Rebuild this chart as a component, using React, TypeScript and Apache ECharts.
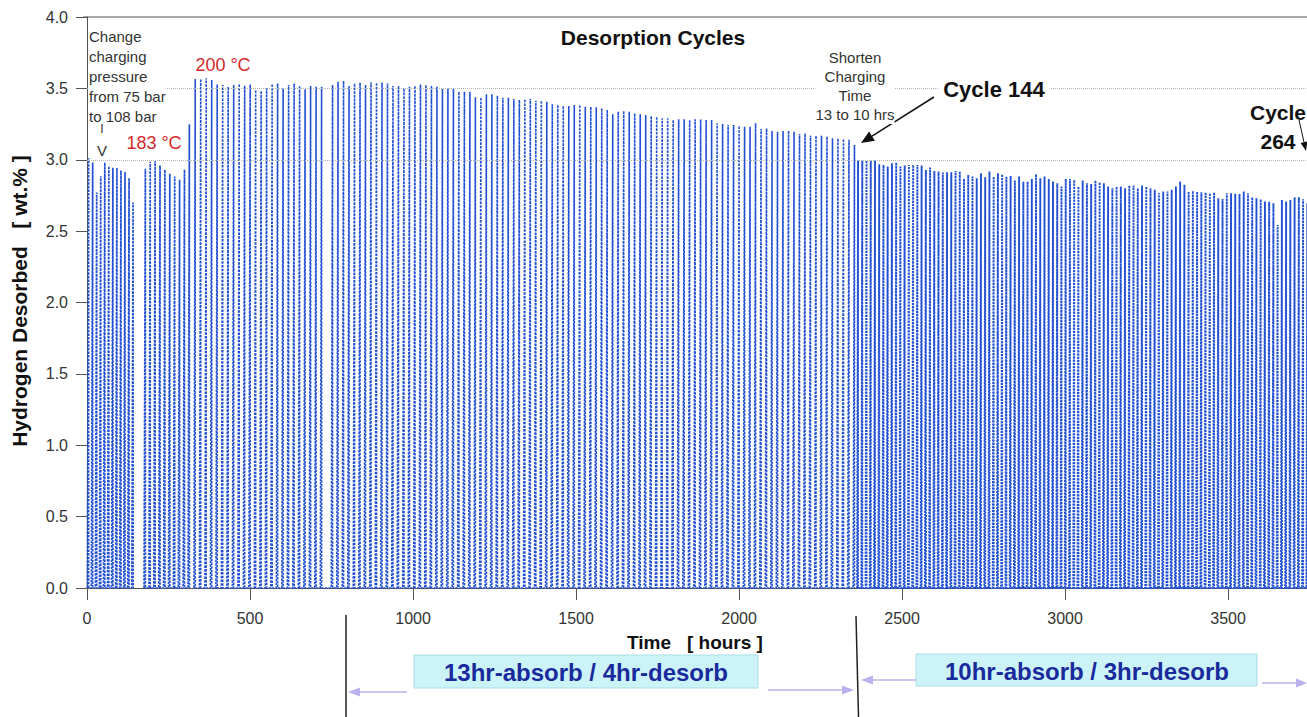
import React, { useEffect, useRef } from "react";
import * as echarts from "echarts";

// ---- Data (peak hydrogen desorbed per cycle, wt.%) ----
// Segment A: 183 °C, 75 bar charging (then change to 108 bar)
const SEG_A_PEAKS = [3.01, 2.98, 2.77, 2.885, 2.98, 2.955, 2.944, 2.944, 2.925, 2.915, 2.87, 2.7];
// Segment B: 183 °C, 108 bar
const SEG_B_PEAKS = [2.937, 2.986, 2.99, 2.96, 2.93, 2.902, 2.883, 2.86, 2.93, 3.248];
// Segment C: 200 °C, 13hr-absorb / 4hr-desorb (null = skipped cycle)
const SEG_C_PEAKS = [
  3.566, 3.566, 3.571, 3.559, 3.528, 3.524, 3.512, 3.524, 3.531, 3.519, 3.528, 3.489,
  3.482, 3.5, 3.531, 3.535, 3.5, 3.524, 3.535, 3.517, 3.494, 3.517, 3.512, 3.512,
  null,
  3.524, 3.547, 3.554, 3.517, 3.535, 3.54, 3.524, 3.543, 3.54, 3.54, 3.535, 3.517,
  3.517, 3.5, 3.512, 3.517, 3.528, 3.524, 3.517, 3.512, 3.496, 3.5, 3.496, 3.477,
  3.477, 3.477, 3.437, 3.437, 3.459, 3.459, 3.449, 3.435, 3.435, 3.426, 3.419, 3.424,
  3.426, 3.414, 3.414, 3.407,
  3.389, 3.384, 3.377, 3.377, 3.384, 3.384, 3.372, 3.372, 3.367, 3.36, 3.349, 3.318,
  3.337, 3.342, 3.337, 3.325, 3.318, 3.314, 3.307, 3.302, 3.29, 3.29, 3.279, 3.283,
  3.283, 3.279, 3.283, 3.283, 3.279, 3.279, 3.255, 3.251, 3.244, 3.244, 3.237, 3.232,
  3.232, 3.255, 3.216, 3.22, 3.202, 3.197, 3.202, 3.204, 3.197, 3.181, 3.185, 3.169,
  3.169, 3.169, 3.162, 3.15, 3.15, 3.146, 3.14, 3.104,
];
// Segment D: from Cycle 144, 10hr-absorb / 3hr-desorb
const SEG_D_PEAKS = [
  2.994, 2.994, 2.994, 2.994, 2.994, 2.968, 2.964, 2.952, 2.975, 2.98, 2.952, 2.959,
  2.964, 2.964, 2.964, 2.959, 2.929, 2.945, 2.922, 2.917, 2.91, 2.912, 2.912, 2.922,
  2.917, 2.866, 2.894, 2.882, 2.87, 2.905, 2.877, 2.917, 2.882, 2.905, 2.898, 2.882,
  2.887, 2.854, 2.882, 2.847, 2.847, 2.866, 2.898, 2.87, 2.882, 2.866, 2.847, 2.835,
  2.812, 2.866, 2.866, 2.859, 2.812,
  2.854, 2.835, 2.83, 2.854, 2.842, 2.835, 2.812, 2.8, 2.812, 2.812, 2.8, 2.819,
  2.819, 2.8, 2.819, 2.812, 2.8, 2.789, 2.765, 2.777, 2.777, 2.789, 2.812, 2.847,
  2.824, 2.777, 2.782, 2.777, 2.772, 2.772, 2.765, 2.77, 2.73, 2.725, 2.765, 2.765,
  2.761, 2.761, 2.777, 2.765, 2.737, 2.73, 2.723, 2.707, 2.707, 2.695, 2.543, 2.718,
  2.707, 2.718, 2.737, 2.737, 2.723, 2.695, 2.672,
];
// Cycle timing per segment (hours)
const SEGMENT_START_HOURS = [1, 175, 328, 2362];
const SEGMENT_PERIOD_HOURS = [12.4, 15, 16.85, 13];
const SEGMENT_DESORB_HOURS = [4, 4, 4, 3];
const GRID_LEVELS = [3.0, 3.5];

const X_MAX = 3742;
const FONT = "'Liberation Sans', Arial, Helvetica, sans-serif";
const BLUE = "#2250d2";
const LAV = "#b9b2ee";
const SEG_LINE_WIDTH = [1.7, 1.7, 1.6, 1.9];
const SEG_DASH = [[2.5, 1.1], [2.5, 1.1], [2.5, 1.2], [2.2, 1.0]];

function cycleLine(peaks: (number | null)[], seg: number) {
  const pts: number[][] = [];
  const start = SEGMENT_START_HOURS[seg];
  const period = SEGMENT_PERIOD_HOURS[seg];
  const dur = SEGMENT_DESORB_HOURS[seg];
  peaks.forEach((p, i) => {
    if (p == null) return;
    const t = start + i * period;
    pts.push([t, 0], [t + dur, p], [t + dur, 0]);
  });
  return pts;
}

function arrow(x1: number, y1: number, x2: number, y2: number, color: string, len: number, half: number, lw: number) {
  const dx = x2 - x1, dy = y2 - y1;
  const L = Math.sqrt(dx * dx + dy * dy);
  const ux = dx / L, uy = dy / L;
  const bx = x2 - ux * len, by = y2 - uy * len;
  const px = -uy, py = ux;
  return [
    { type: "line", shape: { x1, y1, x2: bx, y2: by }, style: { stroke: color, lineWidth: lw }, z: 20 },
    {
      type: "polygon",
      shape: { points: [[x2, y2], [bx + px * half, by + py * half], [bx - px * half, by - py * half]] },
      style: { fill: color },
      z: 20,
    },
  ];
}

function txt(x: number, y: number, text: string, opts: any = {}) {
  const { rotation, scaleX, ...style } = opts;
  const el: any = {
    type: "text",
    x,
    y,
    z: 30,
    style: {
      text,
      fontFamily: FONT,
      fontSize: 15,
      fill: "#222",
      align: "center",
      verticalAlign: "middle",
      ...style,
    },
  };
  if (rotation != null) el.rotation = rotation;
  if (scaleX != null) el.scaleX = scaleX;
  return el;
}

export default function App() {
  const ref = useRef<HTMLDivElement>(null);
  useEffect(() => {
    const chart = echarts.init(ref.current!, null, { renderer: "svg" });
    const seriesData = [
      cycleLine(SEG_A_PEAKS, 0),
      cycleLine(SEG_B_PEAKS, 1),
      cycleLine(SEG_C_PEAKS, 2),
      cycleLine(SEG_D_PEAKS, 3),
    ];
    const graphic: any[] = [
      { type: "line", shape: { x1: 83, y1: 17, x2: 1307, y2: 17 }, style: { stroke: "#555", lineWidth: 1 }, z: 20 },
      txt(653, 37, "Desorption Cycles", { fontSize: 21, fontWeight: "bold", fill: "#111" }),
      txt(19, 301, "Hydrogen Desorbed   [ wt.% ]", { fontSize: 21, fontWeight: "bold", fill: "#111", rotation: Math.PI / 2 }),
      txt(695, 642, "Time   [ hours ]", { fontSize: 19, fontWeight: "bold", fill: "#111" }),
      txt(89, 26, "Change\ncharging\npressure\nfrom 75 bar\nto 108 bar", {
        align: "left", verticalAlign: "top", lineHeight: 20, fontSize: 15, fill: "#333", backgroundColor: "#fff",
      }),
      txt(102, 129, "I", { fontSize: 12, fill: "#333" }),
      txt(102, 150, "V", { fontSize: 15, fill: "#333" }),
      txt(154, 143, "183 °C", { fontSize: 18, fill: "#d42a2a" }),
      txt(223, 65, "200 °C", { fontSize: 18, fill: "#d42a2a" }),
      txt(855, 48, "Shorten\nCharging\nTime\n13 to 10 hrs", {
        verticalAlign: "top", lineHeight: 19, fontSize: 15, fill: "#333", backgroundColor: "#fff",
      }),
      txt(994, 89, "Cycle 144", { fontSize: 22, fontWeight: "bold", fill: "#111", backgroundColor: "#fff", padding: [0, 5] }),
      ...arrow(934, 97, 861, 143, "#111", 13, 5.5, 1.5),
      txt(1278, 98, "Cycle\n264", { fontSize: 21, fontWeight: "bold", fill: "#111", lineHeight: 29, verticalAlign: "top" }),
      ...arrow(1299, 120, 1306, 151, "#111", 9, 3.5, 1),
      // bottom annotations
      { type: "line", shape: { x1: 346, y1: 615, x2: 346, y2: 717 }, style: { stroke: "#222", lineWidth: 1.5 }, z: 20 },
      { type: "line", shape: { x1: 856, y1: 616, x2: 858.5, y2: 717 }, style: { stroke: "#222", lineWidth: 1.5 }, z: 20 },
      { type: "rect", shape: { x: 414, y: 655, width: 344, height: 33 }, style: { fill: "#ccf4f8", stroke: "#a9dde8", lineWidth: 1 }, z: 20 },
      txt(586, 672, "13hr-absorb / 4hr-desorb", { fontSize: 24, fontWeight: "bold", fill: "#1a2a9c" }),
      { type: "rect", shape: { x: 916, y: 654, width: 341, height: 32 }, style: { fill: "#ccf4f8", stroke: "#a9dde8", lineWidth: 1 }, z: 20 },
      txt(1087, 671, "10hr-absorb / 3hr-desorb", { fontSize: 24, fontWeight: "bold", fill: "#1a2a9c" }),
      ...arrow(407, 692, 348, 692, LAV, 12, 4.5, 1.5),
      ...arrow(768, 690, 854, 690, LAV, 12, 4.5, 1.5),
      ...arrow(916, 680, 861, 680, LAV, 12, 4.5, 1.5),
      ...arrow(1262, 683, 1307, 683, LAV, 11, 4.5, 1.5),
    ];

    chart.setOption({
      animation: false,
      backgroundColor: "#fff",
      grid: { left: 87, right: 0, top: 17, bottom: 129, containLabel: false },
      xAxis: {
        type: "value",
        min: 0,
        max: X_MAX,
        interval: 500,
        axisLine: { show: true, onZero: false, lineStyle: { color: "#555", width: 1 } },
        axisTick: { show: true, length: 12, lineStyle: { color: "#555", width: 1 } },
        axisLabel: {
          fontSize: 16,
          fontFamily: FONT,
          color: "#333",
          margin: 22,
          showMaxLabel: false,
          formatter: (v: number) => (v <= 3500 ? String(v) : ""),
        },
        splitLine: { show: false },
      },
      yAxis: {
        type: "value",
        min: 0,
        max: 4,
        interval: 0.5,
        offset: 3,
        axisLine: { show: true, lineStyle: { color: "#555", width: 1 } },
        axisTick: { show: true, length: 11, lineStyle: { color: "#555", width: 1 } },
        axisLabel: {
          fontSize: 16,
          fontFamily: FONT,
          color: "#333",
          margin: 16,
          formatter: (v: number) => v.toFixed(1),
        },
        splitLine: { show: false },
      },
      graphic,
      series: [
        {
          type: "line",
          data: [],
          z: 1,
          silent: true,
          markLine: {
            silent: true,
            symbol: "none",
            label: { show: false },
            lineStyle: { color: "#b4b4b4", type: "dotted", width: 1 },
            data: GRID_LEVELS.map((v) => ({ yAxis: v })),
          },
        },
        ...seriesData.map((d, i) => ({
          type: "line",
          data: d,
          z: 2,
          silent: true,
          symbol: "none",
          showSymbol: false,
          lineStyle: { color: BLUE, width: SEG_LINE_WIDTH[i], type: SEG_DASH[i] },
        })),
      ],
    });
    return () => chart.dispose();
  }, []);
  return (
    <div
      ref={ref}
      style={{ position: "fixed", left: 0, top: 0, width: 1307, height: 717, background: "#fff" }}
    />
  );
}
